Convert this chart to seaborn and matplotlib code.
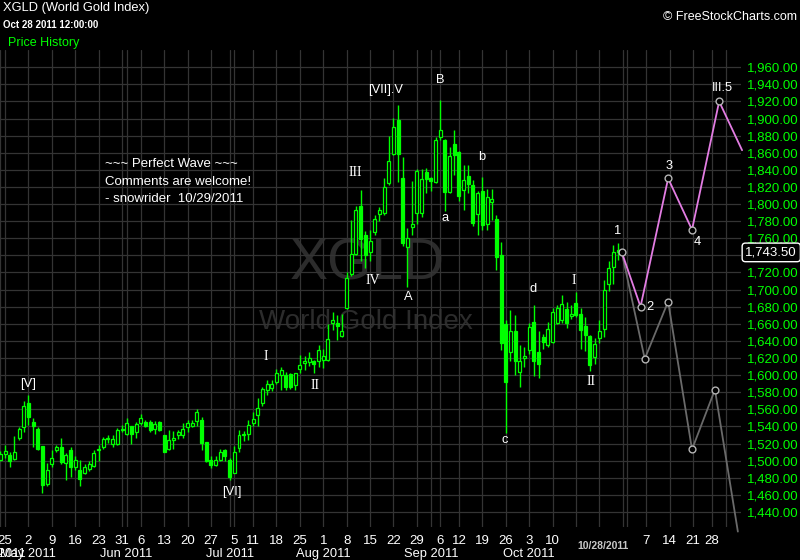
import matplotlib
matplotlib.use("Agg")
import numpy as np
import pandas as pd
import matplotlib.pyplot as plt
import matplotlib.transforms as mtransforms
import seaborn as sns

# XGLD daily candles, Apr 21 - Oct 28 2011
opens = [1501, 1508, 1507, 1502, 1526, 1539, 1567, 1545, 1537, 1517,
         1473, 1496, 1512, 1516, 1497, 1512, 1493, 1489, 1485, 1490,
         1494, 1512, 1516, 1525, 1520, 1519, 1536, 1531, 1540, 1534,
         1544, 1545, 1545, 1537, 1545, 1530, 1514, 1524, 1530, 1530,
         1539, 1541, 1546, 1548, 1522, 1501, 1495, 1501, 1512, 1501,
         1486, 1515, 1530, 1531, 1544, 1553, 1567, 1583, 1585, 1592,
         1600, 1600, 1601, 1588, 1607, 1614, 1615, 1616, 1616, 1618,
         1618, 1661, 1661, 1646, 1678, 1718, 1742, 1798, 1764, 1744,
         1767, 1788, 1790, 1825, 1859, 1898, 1831, 1750, 1773, 1789,
         1789, 1837, 1830, 1826, 1879, 1875, 1814, 1870, 1861, 1816,
         1833, 1822, 1788, 1815, 1777, 1803, 1783, 1740, 1660, 1627,
         1652, 1604, 1620, 1629, 1662, 1627, 1644, 1635, 1639, 1661,
         1664, 1677, 1669, 1684, 1672, 1657, 1646, 1621, 1643, 1654,
         1706, 1727, 1746]
highs = [1511, 1518, 1510, 1529, 1539, 1570, 1577, 1550, 1539, 1517,
         1497, 1512, 1518, 1526, 1509, 1516, 1505, 1501, 1496, 1499,
         1512, 1518, 1528, 1530, 1530, 1538, 1542, 1550, 1541, 1545,
         1554, 1547, 1548, 1546, 1546, 1530, 1536, 1535, 1536, 1544,
         1547, 1547, 1560, 1551, 1522, 1505, 1505, 1513, 1514, 1503,
         1517, 1536, 1535, 1547, 1557, 1573, 1586, 1594, 1594, 1607,
         1610, 1604, 1603, 1603, 1624, 1622, 1627, 1618, 1635, 1631,
         1660, 1674, 1670, 1672, 1721, 1781, 1798, 1816, 1768, 1770,
         1787, 1797, 1830, 1880, 1901, 1916, 1855, 1772, 1827, 1841,
         1841, 1842, 1832, 1879, 1922, 1876, 1867, 1887, 1862, 1846,
         1846, 1828, 1815, 1832, 1818, 1818, 1787, 1756, 1664, 1676,
         1670, 1635, 1633, 1661, 1682, 1651, 1648, 1662, 1679, 1682,
         1694, 1686, 1682, 1697, 1678, 1668, 1647, 1643, 1664, 1711,
         1733, 1752, 1755]
lows = [1499, 1503, 1493, 1501, 1524, 1533, 1542, 1516, 1512, 1462,
        1470, 1493, 1510, 1496, 1477, 1481, 1489, 1470, 1484, 1488,
        1493, 1500, 1514, 1521, 1516, 1518, 1533, 1530, 1520, 1526,
        1542, 1539, 1534, 1531, 1535, 1510, 1512, 1514, 1525, 1526,
        1533, 1539, 1541, 1512, 1498, 1491, 1494, 1500, 1500, 1477,
        1485, 1510, 1523, 1524, 1541, 1541, 1564, 1577, 1581, 1590,
        1583, 1582, 1584, 1582, 1603, 1606, 1611, 1603, 1609, 1608,
        1617, 1653, 1641, 1644, 1677, 1716, 1740, 1733, 1725, 1733,
        1764, 1780, 1787, 1822, 1857, 1826, 1751, 1703, 1764, 1777,
        1785, 1813, 1815, 1825, 1875, 1792, 1813, 1834, 1804, 1793,
        1813, 1774, 1764, 1770, 1770, 1781, 1723, 1629, 1532, 1616,
        1600, 1586, 1610, 1625, 1599, 1597, 1631, 1633, 1638, 1660,
        1661, 1655, 1666, 1668, 1631, 1628, 1605, 1613, 1637, 1645,
        1698, 1707, 1735]
closes = [1508, 1511, 1500, 1510, 1537, 1564, 1551, 1541, 1513, 1471,
          1489, 1503, 1516, 1498, 1507, 1493, 1501, 1479, 1493, 1496,
          1509, 1514, 1525, 1527, 1525, 1536, 1537, 1544, 1531, 1543,
          1550, 1540, 1536, 1543, 1536, 1510, 1524, 1526, 1534, 1537,
          1544, 1544, 1557, 1521, 1499, 1495, 1501, 1510, 1505, 1481,
          1510, 1530, 1531, 1542, 1549, 1561, 1584, 1590, 1590, 1603,
          1606, 1586, 1586, 1602, 1612, 1617, 1620, 1613, 1629, 1622,
          1642, 1664, 1657, 1651, 1714, 1742, 1793, 1759, 1740, 1757,
          1783, 1793, 1820, 1850, 1890, 1859, 1755, 1760, 1777, 1839,
          1829, 1829, 1827, 1875, 1887, 1814, 1856, 1857, 1809, 1828,
          1823, 1778, 1813, 1776, 1808, 1806, 1738, 1637, 1592, 1651,
          1616, 1616, 1622, 1656, 1616, 1613, 1639, 1654, 1674, 1679,
          1683, 1661, 1671, 1670, 1653, 1647, 1612, 1636, 1652, 1700,
          1725, 1744, 1743.5]

# projected wave paths (x = trading-day index, y = price)
bull_x = [132.8, 136.8, 142.7, 147.8, 153.6, 158.5]
bull_y = [1743.5, 1680, 1830, 1770, 1920, 1863]
bear_x = [132.8, 137.7, 142.7, 147.8, 152.7, 157.6]
bear_y = [1743.5, 1619, 1686, 1513, 1583, 1417]

# wave labels: (text, x index, price, serif?)
wave_labels = [
    ("[V]", 5.9, 1590, False), ("[VI]", 49.5, 1463, False),
    ("I", 56.8, 1622, True), ("II", 67.2, 1588, True),
    ("III", 75.8, 1837, True), ("IV", 79.6, 1711, True),
    ("[VII].V", 82.4, 1934, False), ("A", 87.1, 1691, False),
    ("B", 93.9, 1945, False), ("a", 95.0, 1784, False),
    ("b", 102.9, 1855, False), ("c", 107.8, 1524, False),
    ("d", 113.8, 1701, False), ("I", 122.6, 1711, True),
    ("II", 126.2, 1593, True), ("1", 132.0, 1768, False),
    ("2", 138.8, 1680, False), ("3", 142.9, 1845, False),
    ("4", 148.9, 1756, False), ("III.5", 154.2, 1936, False),
]

GREEN = "#00ff00"

sns.set_style("dark", {"axes.facecolor": "black", "figure.facecolor": "black",
                       "grid.color": "#343434", "axes.edgecolor": "black"})
plt.rcParams["font.family"] = ["Liberation Sans", "DejaVu Sans"]

closed = pd.to_datetime(["2011-04-22", "2011-05-30", "2011-07-04",
                         "2011-09-05", "2011-11-24"])
days = pd.bdate_range("2011-04-21", "2011-12-02")
days = days[~days.isin(closed)]
cal = pd.DataFrame({"date": days, "x": np.arange(len(days))})
prev = cal["date"].shift(1)
cal["week_start"] = prev.isna() | (cal["date"].dt.isocalendar().week.values
                                   != prev.dt.isocalendar().week.values)
cal["month_start"] = prev.isna() | (cal["date"].dt.month != prev.dt.month)
cal.loc[0, "week_start"] = False

df = pd.DataFrame({"open": opens, "high": highs, "low": lows, "close": closes})
df["x"] = np.arange(len(df))
up = df["close"] >= df["open"]
body = (df["close"] - df["open"]).abs().clip(lower=1.3)
bottom = df[["open", "close"]].min(axis=1)

fig = plt.figure(figsize=(8, 5.6), dpi=100)
ax = fig.add_axes([0, 0.0584, 741 / 800, 0.8523])

# watermark
ax.text(78.5, 1729, "XGLD", color="#2c2c2c", fontsize=41, ha="center", va="center",
        zorder=0.5)
ax.text(78.1, 1662, "World Gold Index", color="#2c2c2c", fontsize=20,
        ha="center", va="center", zorder=0.5)

# candles
ax.vlines(df["x"], df["low"], df["high"], color=GREEN, lw=1, zorder=2)
ax.bar(df["x"][up], body[up], bottom=bottom[up], width=0.64,
       facecolor="black", edgecolor=GREEN, lw=0.9, zorder=3)
ax.bar(df["x"][~up], body[~up], bottom=bottom[~up], width=0.64,
       facecolor=GREEN, edgecolor=GREEN, lw=0.9, zorder=3)

# projections
bear = pd.DataFrame({"x": bear_x, "y": bear_y})
bull = pd.DataFrame({"x": bull_x, "y": bull_y})
sns.lineplot(data=bear, x="x", y="y", sort=False, estimator=None,
             color="#6a6a6a", lw=1.3, ax=ax, zorder=4)
sns.lineplot(data=bull, x="x", y="y", sort=False, estimator=None,
             color="#e37de3", lw=1.3, ax=ax, zorder=5)
for ln in ax.lines:
    ln.set_clip_on(False)
pts = pd.concat([bear.iloc[:-1], bull.iloc[1:-1]])
sns.scatterplot(data=pts, x="x", y="y", s=24, marker="o", facecolor="black",
                edgecolor="#b4b4b4", linewidth=1, ax=ax, zorder=6)

for txt, x, y, serif in wave_labels:
    ax.text(x, y, txt, color="white", fontsize=10 if serif else 9.3,
            ha="center", va="center",
            family=["Liberation Serif"] if serif else None, zorder=7)

for i, line in enumerate(["~~~ Perfect Wave ~~~", "Comments are welcome!",
                          "- snowrider  10/29/2011"]):
    ax.text(22.4, [1847, 1826, 1806][i], line, color="white", fontsize=9.5,
            ha="left", va="center", zorder=7)

# axes, ticks, grid
ax.set_xlim(-0.07, 158.27)
ax.set_ylim(1422, 1980.2)
weeks = cal[cal["week_start"]]
ax.set_xticks(weeks["x"])
hide = (weeks["date"] > "2011-10-14") & (weeks["date"] < "2011-11-05")
ax.set_xticklabels(["" if h else str(d.day) for d, h in zip(weeks["date"], hide)])
ax.set_xticks(cal.loc[cal["month_start"], "x"], minor=True)
yt = np.arange(1440, 1961, 20)
ax.set_yticks(yt)
ax.set_yticklabels(["" if v == 1740 else f"{v:,.2f}" for v in yt])
ax.yaxis.tick_right()
ax.tick_params(axis="x", which="both", length=0, colors="white", labelsize=9.5, pad=5.5)
ax.tick_params(axis="y", length=0, colors=GREEN, labelsize=9.5, pad=4)
ax.grid(True, axis="x", which="both", color="#343434", lw=0.9)
ax.grid(True, axis="y", color="#343434", lw=0.9)
ax.set_xlabel("")
ax.set_ylabel("")
for s in ax.spines.values():
    s.set_visible(False)

tr = mtransforms.blended_transform_factory(ax.transData, ax.transAxes)
for _, r in cal[cal["month_start"] & (cal["date"] < "2011-11-01")].iterrows():
    ax.text(r["x"], -0.056, r["date"].strftime("%b %Y"), transform=tr,
            color="white", fontsize=9.3, ha="center", va="center", clip_on=False)
ax.text(128.8, -0.04, "10/28/2011", transform=tr, color="#c8c8c8", fontsize=7.5,
        fontweight="bold", ha="center", va="center")

tr2 = mtransforms.blended_transform_factory(ax.transAxes, ax.transData)
ax.text(1.006, 1743.5, "1,743.50", transform=tr2, color="white", fontsize=9.5,
        ha="left", va="center",
        bbox=dict(boxstyle="round,pad=0.25", fc="black", ec="white", lw=1))

fig.text(3 / 800, 1 - 8 / 560, "XGLD (World Gold Index)", color="white",
         fontsize=9.3, va="center")
fig.text(3 / 800, 1 - 25 / 560, "Oct 28 2011 12:00:00", color="white",
         fontsize=7, fontweight="bold", va="center")
fig.text(8 / 800, 1 - 43 / 560, "Price History", color=GREEN, fontsize=9, va="center")
fig.text(797 / 800, 1 - 17 / 560, "\u00a9 FreeStockCharts.com", color="white",
         fontsize=9, ha="right", va="center")

fig.savefig("out.png", dpi=100, facecolor="black")
